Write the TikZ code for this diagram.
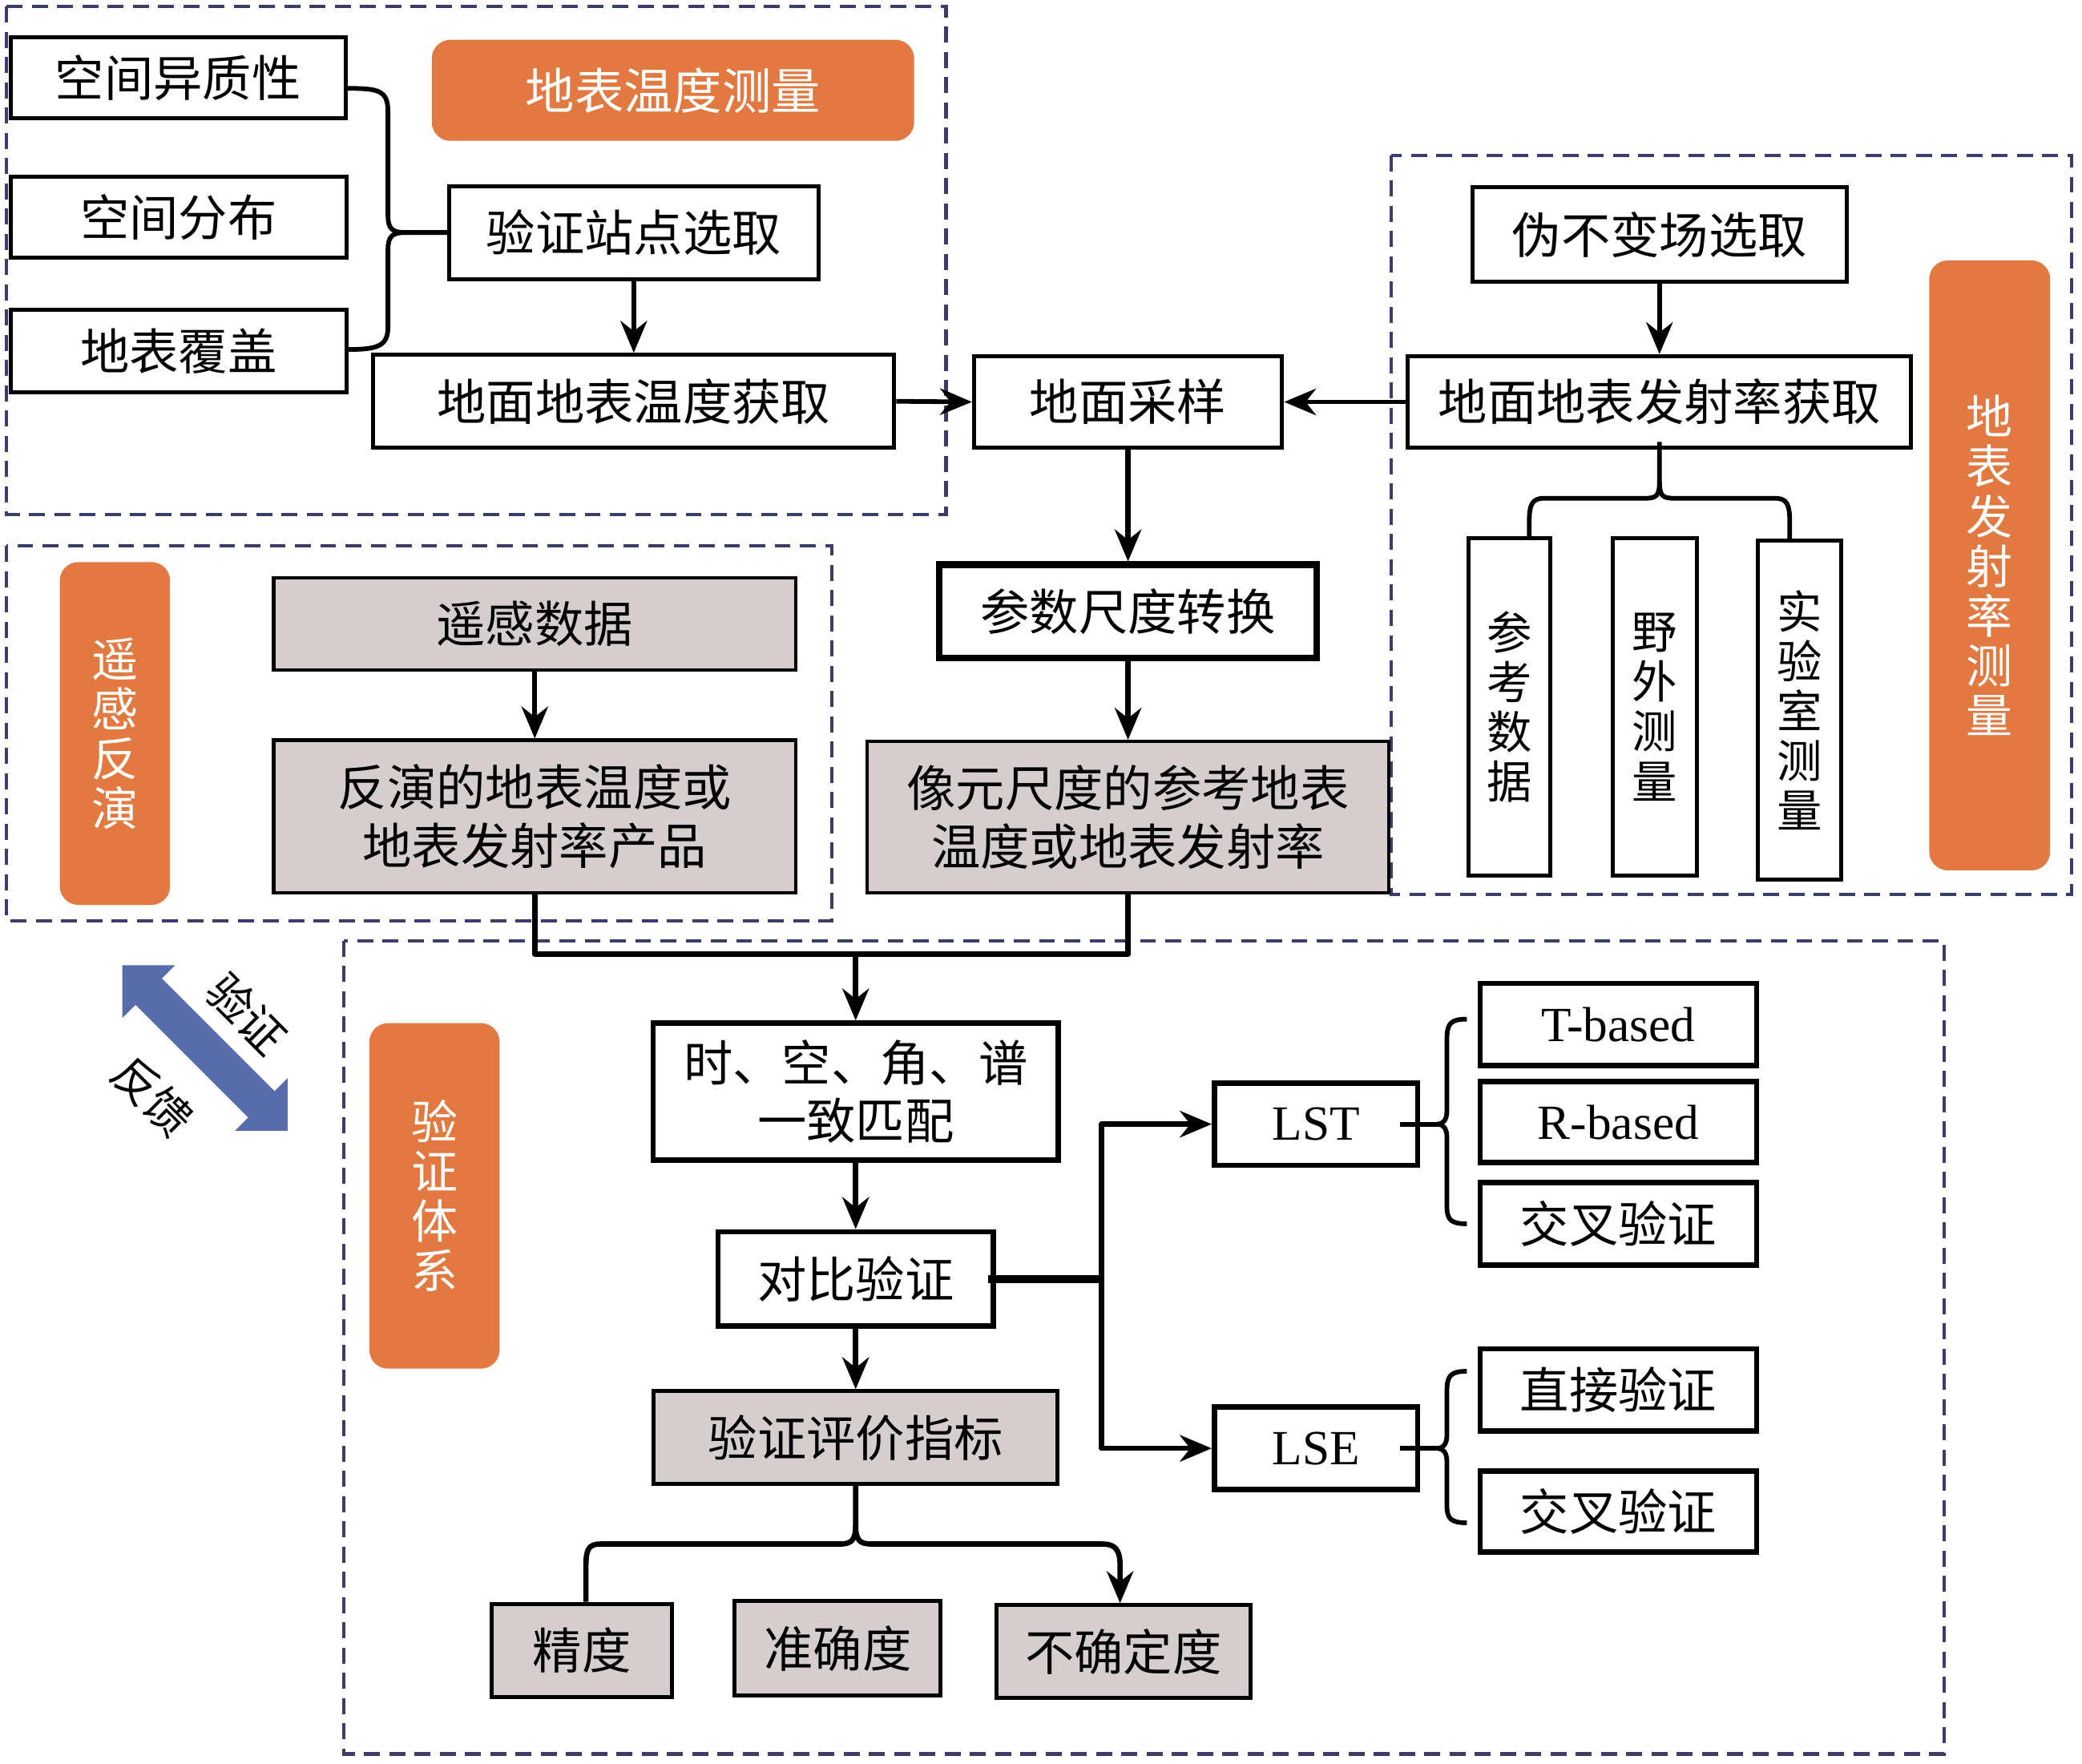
\documentclass[tikz,border=0pt]{standalone}
\usepackage{fontspec}
\setmainfont{Noto Sans CJK SC}
\newfontfamily\latinfont{Liberation Serif}
\usetikzlibrary{arrows.meta}
\definecolor{orng}{RGB}{225,121,65}
\definecolor{gry}{RGB}{212,207,206}
\definecolor{frm}{RGB}{60,60,105}
\definecolor{blu}{RGB}{88,108,172}
\begin{document}
\begin{tikzpicture}[x=1pt,y=-1pt,
  box/.style={draw=black,line width=3pt,fill=white,inner sep=0pt,align=center,font=\fontsize{37}{44}\selectfont},
  tbox/.style={box,line width=4pt},
  gbox/.style={box,fill=gry,line width=2.5pt},
  obox/.style={fill=orng,rounded corners=14pt,text=white,inner sep=0pt,align=center,font=\fontsize{37}{44}\selectfont},
  vbox/.style={box,font=\fontsize{34}{37.5}\selectfont},
  vobox/.style={obox,font=\fontsize{35}{37.5}\selectfont},
  lbox/.style={tbox,font=\latinfont\fontsize{37}{44}\selectfont},
  dashframe/.style={draw=frm,line width=2.5pt,dash pattern=on 12pt off 7pt},
  conn/.style={line width=3.5pt,line join=round},
  arr/.style={conn,-{Stealth[length=24pt,width=20pt]}},
  rlabel/.style={rotate=-45,font=\fontsize{34}{40}\selectfont,inner sep=0pt},
]
\useasboundingbox[fill=white] (0,0) rectangle (1567,1327);

% dashed frames
\draw[dashframe] (5,5) rectangle (712,387);
\draw[dashframe] (1047,117) rectangle (1559,673);
\draw[dashframe] (5,411) rectangle (626,693);
\draw[dashframe] (259,708) rectangle (1463,1320);

% top-left block
\node[box,minimum width=252pt,minimum height=61pt] (a1) at (134,58.5) {空间异质性};
\node[box,minimum width=253pt,minimum height=61pt] (a2) at (134.5,163.5) {空间分布};
\node[box,minimum width=253pt,minimum height=62pt] (a3) at (134.5,264) {地表覆盖};
\node[obox,minimum width=363pt,minimum height=76pt] (t1) at (506.5,68) {地表温度测量};
\node[box,minimum width=278pt,minimum height=70pt] (b1) at (477,175) {验证站点选取};
\node[box,minimum width=392pt,minimum height=70pt] (b2) at (477,302) {地面地表温度获取};
\node[box,minimum width=232pt,minimum height=69pt] (c1) at (849,302.5) {地面采样};

% right block
\node[box,minimum width=282pt,minimum height=71pt] (d1) at (1249,176.5) {伪不变场选取};
\node[box,minimum width=379pt,minimum height=69pt] (d2) at (1249,302.5) {地面地表发射率获取};
\node[vbox,minimum width=62pt,minimum height=254pt] (d3) at (1136,532) {参\\考\\数\\据};
\node[vbox,minimum width=63pt,minimum height=254pt] (d4) at (1245.5,532) {野\\外\\测\\量};
\node[vbox,minimum width=63pt,minimum height=255pt] (d5) at (1354.5,534.5) {实\\验\\室\\测\\量};
\node[vobox,minimum width=91pt,minimum height=459pt] (t2) at (1497.5,425.5) {地\\表\\发\\射\\率\\测\\量};

% remote sensing block
\node[vobox,minimum width=83pt,minimum height=258pt] (t3) at (86.5,552) {遥\\感\\反\\演};
\node[gbox,minimum width=393pt,minimum height=69pt] (e1) at (402.5,469.5) {遥感数据};
\node[gbox,minimum width=393pt,minimum height=115pt] (e2) at (402.5,614.5) {反演的地表温度或\\地表发射率产品};
\node[box,line width=5pt,minimum width=284pt,minimum height=70pt] (c2) at (849,460) {参数尺度转换};
\node[gbox,minimum width=393pt,minimum height=114pt] (c3) at (849,615) {像元尺度的参考地表\\温度或地表发射率};

% validation block
\node[vobox,minimum width=98pt,minimum height=260pt] (t4) at (327,900) {验\\证\\体\\系};
\node[tbox,minimum width=305pt,minimum height=103pt] (f1) at (644,821.5) {时、空、角、谱\\一致匹配};
\node[tbox,minimum width=207pt,minimum height=71pt] (f2) at (644,962.5) {对比验证};
\node[gbox,line width=3pt,minimum width=304pt,minimum height=70pt] (f3) at (644,1082) {验证评价指标};
\node[gbox,line width=3pt,minimum width=136pt,minimum height=70pt] (g1) at (438,1242) {精度};
\node[gbox,line width=3pt,minimum width=155pt,minimum height=71pt] (g2) at (630.5,1240.5) {准确度};
\node[gbox,line width=3pt,minimum width=191pt,minimum height=70pt] (g3) at (845.5,1243) {不确定度};
\node[lbox,minimum width=153pt,minimum height=62pt] (h1) at (990.5,846) {LST};
\node[lbox,minimum width=153pt,minimum height=62pt] (h2) at (990.5,1090) {LSE};
\node[lbox,minimum width=208pt,minimum height=62pt] (i1) at (1218,771) {T-based};
\node[lbox,minimum width=208pt,minimum height=61pt] (i2) at (1218,844.5) {R-based};
\node[tbox,minimum width=208pt,minimum height=62pt] (i3) at (1218,921) {交叉验证};
\node[tbox,minimum width=208pt,minimum height=62pt] (i4) at (1218,1046) {直接验证};
\node[tbox,minimum width=208pt,minimum height=61pt] (i5) at (1218,1137.5) {交叉验证};

% blue double arrow and labels
\begin{scope}[shift={(154.3,788.7)},rotate=-45]
\fill[blu] (-88,0) -- (-60,28) -- (-60,14) -- (60,14) -- (60,28) -- (88,0)
  -- (60,-28) -- (60,-14) -- (-60,-14) -- (-60,-28) -- cycle;
\end{scope}
\node[rlabel] (lv) at (186,763) {验证};
\node[rlabel] (lf) at (115,825) {反馈};

% connectors: top-left
\draw[conn] ([yshift=-8pt]a1.east) .. controls (285,66.5) and (292,68) .. (292,84) -- (292,162)
  .. controls (292,172) and (295,175) .. (305,175) -- (b1.west);
\draw[conn] ([yshift=1pt]a3.east) .. controls (285,263) and (292,260) .. (292,246) -- (292,188)
  .. controls (292,178) and (295,175) .. (305,175);
\draw[arr] (b1.south) -- (b2.north);
\draw[arr] (b2.east) -- (c1.west);
\draw[arr] (d2.west) -- (c1.east);
\draw[arr] (d1.south) -- (d2.north);

% emissivity brace
\coordinate (ds) at (1249,362);
\draw[conn] ([yshift=6pt]d2.south) -- (ds) .. controls (1249,373) and (1247,375) .. (1238,375) -- (1162,375)
  .. controls (1153,375) and (1151,380) .. (1151,392) -- ([xshift=15pt]d3.north);
\draw[conn] (ds) .. controls (1249,373) and (1251,375) .. (1260,375) -- (1336,375)
  .. controls (1345,375) and (1347,380) .. (1347,392) -- ([xshift=-7.5pt]d5.north);

% centre column
\draw[arr,line width=4pt] (c1.south) -- (c2.north);
\draw[arr,line width=4pt] (c2.south) -- (c3.north);
\draw[arr] (e1.south) -- (e2.north);
\coordinate (m) at (644,718);
\draw[conn,line width=4.5pt] (e2.south) |- (m) -| (c3.south);
\draw[arr,line width=4pt] (m) -- (f1.north);
\draw[arr,line width=4pt] (f1.south) -- (f2.north);
\draw[arr,line width=4pt] (f2.south) -- (f3.north);

% to LST / LSE
\coordinate (j) at (829,962.5);
\draw[line width=6pt] ([xshift=-6pt]f2.east) -- ([xshift=2pt]j);
\draw[arr,line width=4pt] (j) |- (h1.west);
\draw[arr,line width=4pt] (j) |- (h2.west);

% LST brace
\draw[conn] ([xshift=-15pt]h1.east) -- (1082,846);
\draw[conn] ([xshift=-8pt]i1.west |- 0,767) .. controls (1092,767) and (1089,770) .. (1089,782) -- (1089,836)
  .. controls (1089,843) and (1086,846) .. (1082,846)
  .. controls (1086,846) and (1089,849) .. (1089,856) -- (1089,908)
  .. controls (1089,918) and (1092,921) .. ([xshift=-8pt]i3.west |- 0,921);
% LSE brace
\draw[conn] ([xshift=-15pt]h2.east) -- (1082,1090);
\draw[conn] ([xshift=-8pt]i4.west |- 0,1032) .. controls (1092,1032) and (1089,1035) .. (1089,1047) -- (1089,1080)
  .. controls (1089,1087) and (1086,1090) .. (1082,1090)
  .. controls (1086,1090) and (1089,1093) .. (1089,1100) -- (1089,1133)
  .. controls (1089,1143) and (1092,1146) .. ([xshift=-8pt]i5.west |- 0,1146);

% evaluation brace
\coordinate (es) at (644,1148);
\draw[conn,line width=4pt] ([yshift=2pt]f3.south) -- (es) .. controls (644,1159) and (641,1162) .. (632,1162) -- (452,1162)
  .. controls (443,1162) and (441,1166) .. (441,1178) -- ([xshift=3pt]g1.north);
\draw[arr,line width=4pt] (es) .. controls (644,1159) and (647,1162) .. (656,1162) -- (830,1162)
  .. controls (839,1162) and (843,1166) .. (843,1178) -- ([xshift=-2.5pt]g3.north);
\end{tikzpicture}
\end{document}
